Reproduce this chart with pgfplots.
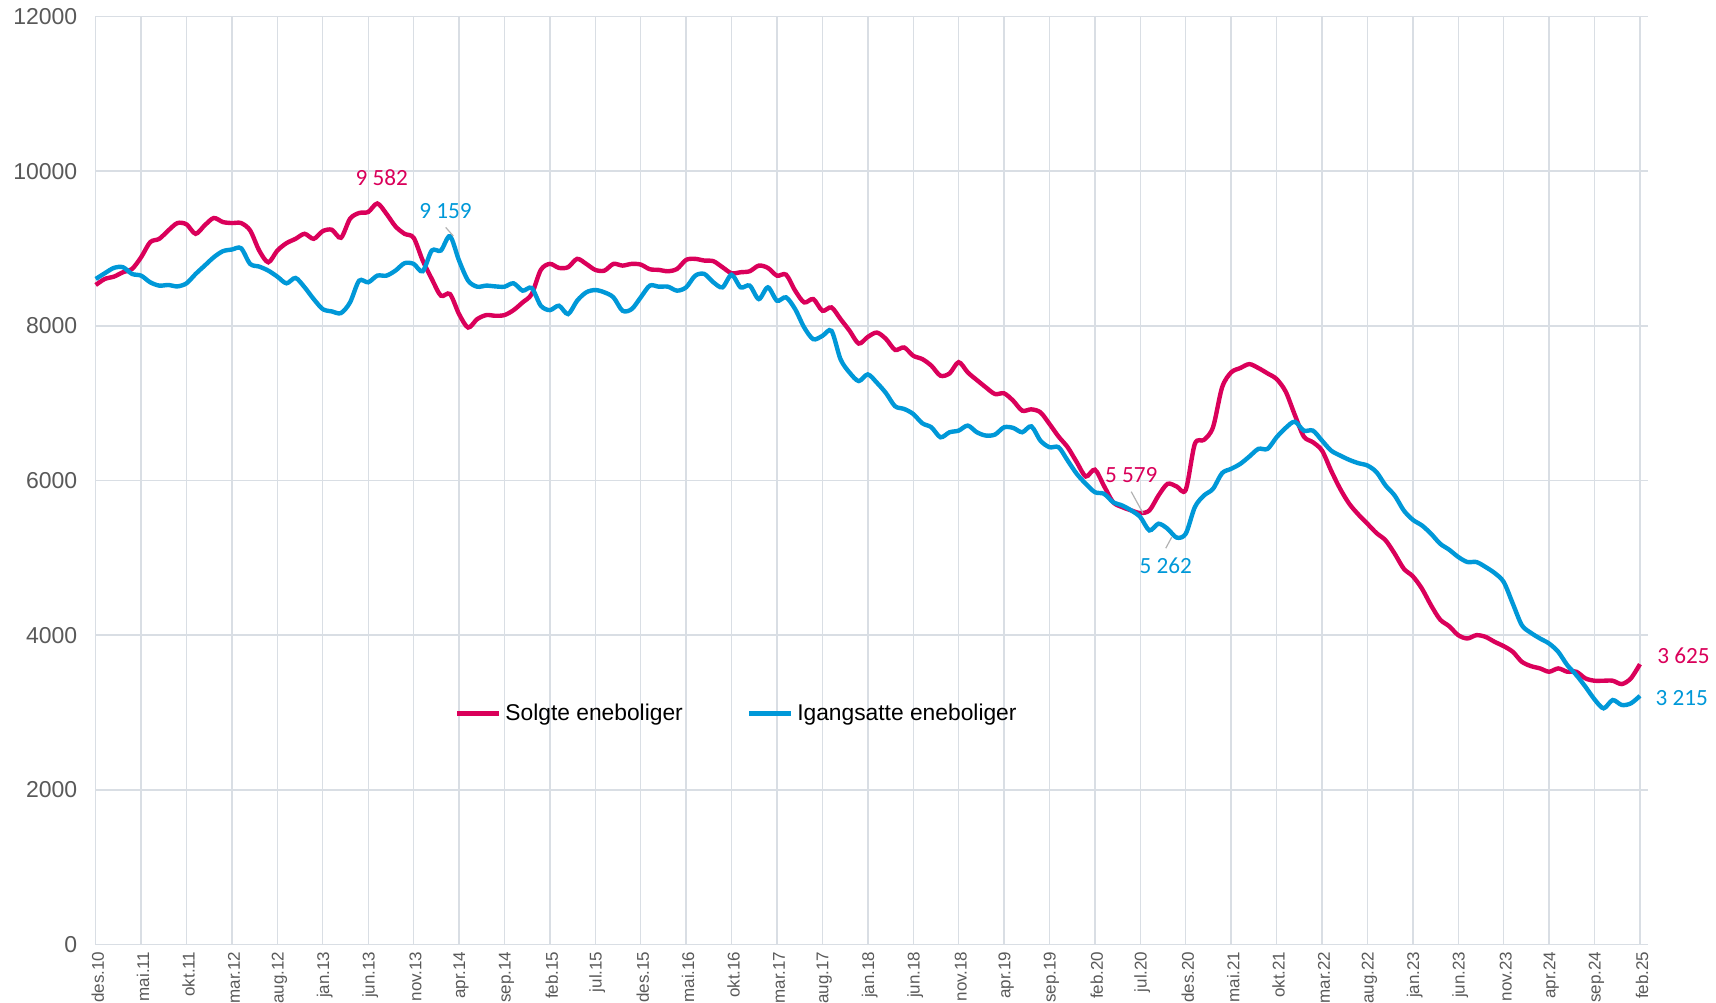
\documentclass[border=0pt]{standalone}
\usepackage{pgfplots}
\pgfplotsset{compat=1.18}
\usepackage{pgfplotstable}
\usepackage{fontspec}
\setmainfont{Liberation Sans}
\newfontfamily\calfont{Carlito}
\definecolor{redline}{RGB}{218,0,90}
\definecolor{blueline}{RGB}{0,152,216}
\definecolor{gridc}{RGB}{217,222,228}
\definecolor{labc}{RGB}{89,89,89}

\pgfplotstableread{
m v
0 8528
1 8606
2 8636
3 8693
4 8736
5 8887
6 9082
7 9125
8 9234
9 9329
10 9312
11 9190
12 9300
13 9394
14 9342
15 9329
16 9329
17 9234
18 8974
19 8822
20 8974
21 9069
22 9125
23 9190
24 9125
25 9225
26 9242
27 9139
28 9385
29 9459
30 9472
31 9582
32 9450
33 9286
34 9190
35 9139
36 8844
37 8606
38 8390
39 8411
40 8152
41 7978
42 8087
43 8139
44 8130
45 8139
46 8203
47 8303
48 8411
49 8723
50 8801
51 8749
52 8758
53 8866
54 8801
55 8723
56 8714
57 8801
58 8779
59 8801
60 8792
61 8732
62 8723
63 8706
64 8736
65 8853
66 8866
67 8844
68 8836
69 8758
70 8680
71 8693
72 8706
73 8779
74 8749
75 8649
76 8662
77 8455
78 8303
79 8346
80 8195
81 8238
82 8087
83 7935
84 7771
85 7857
86 7913
87 7830
88 7690
89 7720
90 7613
91 7570
92 7484
93 7355
94 7385
95 7530
96 7398
97 7299
98 7204
99 7118
100 7127
101 7032
102 6903
103 6920
104 6882
105 6731
106 6568
107 6430
108 6237
109 6052
110 6140
111 5930
112 5720
113 5656
114 5613
115 5579
116 5613
117 5806
118 5957
119 5923
120 5880
121 6473
122 6525
123 6688
124 7204
125 7398
126 7454
127 7505
128 7454
129 7385
130 7312
131 7150
132 6850
133 6568
134 6495
135 6387
136 6129
137 5892
138 5699
139 5561
140 5441
141 5320
142 5226
143 5054
144 4860
145 4761
146 4602
147 4387
148 4202
149 4116
150 4000
151 3957
152 4000
153 3978
154 3914
155 3858
156 3785
157 3656
158 3600
159 3570
160 3527
161 3570
162 3527
163 3527
164 3441
165 3411
166 3411
167 3411
168 3368
169 3441
170 3625
}\solgte

\pgfplotstableread{
m v
0 8606
1 8680
2 8749
3 8758
4 8671
5 8649
6 8563
7 8520
8 8528
9 8510
10 8550
11 8671
12 8779
13 8887
14 8965
15 8987
16 9004
17 8801
18 8766
19 8714
20 8636
21 8550
22 8619
23 8498
24 8346
25 8216
26 8186
27 8165
28 8303
29 8584
30 8563
31 8649
32 8649
33 8714
34 8810
35 8801
36 8706
37 8974
38 8974
39 9159
40 8844
41 8584
42 8506
43 8520
44 8510
45 8506
46 8550
47 8455
48 8489
49 8260
50 8203
51 8260
52 8152
53 8325
54 8433
55 8463
56 8433
57 8368
58 8195
59 8216
60 8368
61 8520
62 8506
63 8506
64 8455
65 8498
66 8649
67 8671
68 8563
69 8498
70 8660
71 8498
72 8520
73 8346
74 8498
75 8325
76 8368
77 8216
78 7978
79 7827
80 7870
81 7935
82 7567
83 7394
84 7286
85 7372
86 7264
87 7130
88 6960
89 6925
90 6860
91 6740
92 6688
93 6559
94 6624
95 6645
96 6710
97 6624
98 6581
99 6594
100 6688
101 6680
102 6624
103 6700
104 6516
105 6430
106 6430
107 6258
108 6086
109 5957
110 5849
111 5828
112 5720
113 5677
114 5613
115 5527
116 5355
117 5441
118 5376
119 5262
120 5312
121 5656
122 5806
123 5892
124 6095
125 6151
126 6215
127 6310
128 6409
129 6409
130 6559
131 6680
132 6760
133 6645
134 6645
135 6516
136 6387
137 6323
138 6267
139 6224
140 6194
141 6108
142 5935
143 5806
144 5613
145 5492
146 5419
147 5312
148 5183
149 5105
150 5011
151 4946
152 4946
153 4882
154 4804
155 4688
156 4409
157 4129
158 4030
159 3957
160 3892
161 3785
162 3613
163 3484
164 3333
165 3170
166 3054
167 3161
168 3097
169 3118
170 3215
}\igang

\begin{document}
\begin{tikzpicture}
\path[use as bounding box] (0,0) rectangle (858pt,501pt);
\begin{axis}[
  at={(47.85pt,28.75pt)}, anchor=south west,
  scale only axis, width=776.2pt, height=464pt,
  xmin=0, xmax=170.9, ymin=0, ymax=12000,
  xtick={0,5,...,170},
  xticklabels={des.10,mai.11,okt.11,mar.12,aug.12,jan.13,jun.13,nov.13,apr.14,sep.14,feb.15,jul.15,des.15,mai.16,okt.16,mar.17,aug.17,jan.18,jun.18,nov.18,apr.19,sep.19,feb.20,jul.20,des.20,mai.21,okt.21,mar.22,aug.22,jan.23,jun.23,nov.23,apr.24,sep.24,feb.25},
  xticklabel style={rotate=90, anchor=east, font=\fontsize{8.5}{10}\selectfont, text=labc, yshift=-1pt},
  ytick={0,2000,...,12000},
  scaled y ticks=false,
  yticklabel style={font=\fontsize{11.5}{13}\selectfont, text=labc, xshift=-5.7pt},
  /pgf/number format/assume math mode=true,
  /pgf/number format/1000 sep={},
  grid=major, grid style={gridc, line width=0.7pt},
  axis line style={draw=none},
  major tick length=0pt,
  clip=false,
  legend style={at={(0.4136,0.249)}, anchor=center, draw=none, fill=none,
    font=\fontsize{11.4}{13}\selectfont, legend columns=2,
    /tikz/every even column/.append style={column sep=30pt},
    /tikz/every odd column/.append style={column sep=0pt}},
  legend image code/.code={\draw[#1, line width=2.2pt] (0pt,0pt) -- (21pt,0pt);},
]
\addplot[redline, line width=2.2pt, smooth, tension=0.5] table[x=m, y=v] {\solgte};
\addlegendentry{Solgte eneboliger}
\addplot[blueline, line width=2.2pt, smooth, tension=0.5] table[x=m, y=v] {\igang};
\addlegendentry{Igangsatte eneboliger}

\draw[gray!60, line width=0.6pt] (axis cs:38.53,9273) -- (axis cs:39.37,9161);
\draw[gray!60, line width=0.6pt] (axis cs:114.0,5855) -- (axis cs:115.3,5576);
\draw[gray!60, line width=0.6pt] (axis cs:117.8,5124) -- (axis cs:118.45,5266);

\node[text=redline, font=\calfont\fontsize{11.6}{13}\selectfont] at (axis cs:31.5,9920) {9 582};
\node[text=blueline, font=\calfont\fontsize{11.6}{13}\selectfont] at (axis cs:38.5,9484) {9 159};
\node[text=redline, font=\calfont\fontsize{11.6}{13}\selectfont] at (axis cs:114.0,6070) {5 579};
\node[text=blueline, font=\calfont\fontsize{11.6}{13}\selectfont] at (axis cs:117.8,4894) {5 262};
\node[text=redline, font=\calfont\fontsize{11.6}{13}\selectfont] at (axis cs:174.8,3730) {3 625};
\node[text=blueline, font=\calfont\fontsize{11.6}{13}\selectfont] at (axis cs:174.6,3183) {3 215};
\end{axis}
\end{tikzpicture}
\end{document}
